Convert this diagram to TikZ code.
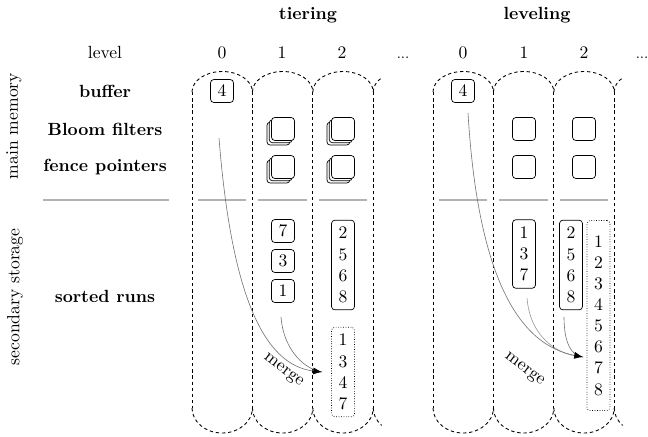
\documentclass[tikz,border=0pt]{standalone}
\usetikzlibrary{shadows,arrows.meta}
\begin{document}
\begin{tikzpicture}[x=0.568pt,y=0.568pt,
  col/.style={dash pattern=on 1.9pt off 1.6pt, line width=0.5pt},
  sep/.style={draw=black!30, line width=0.6pt},
  rowlbl/.style={font=\bfseries},
  hdr/.style={anchor=base},
  key/.style={draw, rounded corners=1.8pt, minimum size=13pt, inner sep=0pt},
  run/.style={draw, rounded corners=1.8pt, align=center, inner sep=4pt},
  mrun/.style={run, densely dotted},
  filt/.style={draw, rounded corners=1.8pt, minimum size=13pt, inner sep=0pt, fill=white},
  stack/.style={filt, double copy shadow={shadow xshift=-1.3pt, shadow yshift=-1.3pt}},
  flowA/.style={draw=black!55, line width=0.35pt},
  flowB/.style={draw=black!40, line width=0.35pt},
  tipped/.style={-{Latex[length=5pt,width=4pt,color=black]}},
]
\useasboundingbox (0,0) rectangle (648,-436);

% left labels
\node[rotate=90] (mm) at (14,-126) {main memory};
\node[rotate=90] (ss) at (15,-297) {secondary storage};
\node[hdr] (lvl) at (105,-58) {level};
\node[rowlbl] (buf) at (105,-91) {buffer};
\node[rowlbl] (bf) at (105,-129) {Bloom filters};
\node[rowlbl] (fp) at (105,-167) {fence pointers};
\node[rowlbl] (sr) at (105,-296) {sorted runs};
\coordinate (sepL) at (43,-200);
\coordinate (sepR) at (169,-200);
\draw[sep] (sepL) -- (sepR);

% titles
\node[font=\bfseries] (tt) at (308,-15) {tiering};
\node[font=\bfseries] (lt) at (537,-15) {leveling};

% columns (two groups)
\foreach \g/\ox in {T/192, L/433} {
  \foreach \i in {0,1,2} {
    \pgfmathsetmacro{\lx}{\ox+60.4*\i}
    \draw[col] (\lx,-92) arc[start angle=180, end angle=0, x radius=30.2, y radius=20.5];
    \draw[col] (\lx,-408) arc[start angle=180, end angle=360, x radius=30.2, y radius=25];
    \coordinate (\g s\i a) at (\lx+6,-200);
    \coordinate (\g s\i b) at (\lx+54.4,-200);
    \draw[sep] (\g s\i a) -- (\g s\i b);
  }
  \foreach \i in {0,1,2,3} {
    \pgfmathsetmacro{\lx}{\ox+60.4*\i}
    \coordinate (\g v\i t) at (\lx,-92);
    \coordinate (\g v\i b) at (\lx,-408);
    \draw[col] (\g v\i t) -- (\g v\i b);
  }
  \pgfmathsetmacro{\lx}{\ox+60.4*3}
  \draw[col] (\lx,-92) arc[start angle=180, end angle=136, x radius=30.2, y radius=20.5];
  \draw[col] (\lx,-408) arc[start angle=180, end angle=224, x radius=30.2, y radius=25];
}

% headers
\node[hdr] (t0) at (222,-58) {0};
\node[hdr] (t1) at (282,-58) {1};
\node[hdr] (t2) at (342,-58) {2};
\node[hdr,font=\footnotesize] (td) at (403,-58) {...};
\node[hdr] (l0) at (463,-58) {0};
\node[hdr] (l1) at (524,-58) {1};
\node[hdr] (l2) at (584,-58) {2};
\node[hdr,font=\footnotesize] (ld) at (642,-58) {...};

% tiering contents
\node[key] (tb) at (222,-91) {4};
\node[stack] (tbf1) at (283,-129) {};
\node[stack] (tbf2) at (343,-129) {};
\node[stack] (tfp1) at (283,-167) {};
\node[stack] (tfp2) at (343,-167) {};
\node[key] (tr7) at (283,-231) {7};
\node[key] (tr3) at (283,-261) {3};
\node[key] (tr1) at (283,-291) {1};
\node[run] (tr2) at (343,-265) {2\\5\\6\\8};
\node[mrun] (tm) at (343,-372) {1\\3\\4\\7};

% leveling contents
\node[key] (lb) at (463,-91) {4};
\node[filt] (lbf1) at (524,-129) {};
\node[filt] (lbf2) at (584,-129) {};
\node[filt] (lfp1) at (524,-167) {};
\node[filt] (lfp2) at (584,-167) {};
\node[run] (lr1) at (524,-254) {1\\3\\7};
\node[run] (lr2) at (571,-265) {2\\5\\6\\8};
\node[mrun, minimum height=108pt] (lm) at (598.5,-315.5) {1\\2\\3\\4\\5\\6\\7\\8};

% merge flows tiering
\coordinate (ta) at (219,-138);
\coordinate (tc) at (281,-317);
\coordinate (ttip) at (322,-372);
\draw[flowA] (tc) .. controls (283,-345) and (300,-368) .. (ttip);
\draw[flowA, tipped] (ta) .. controls (231,-290) and (262,-365) .. (ttip);
\node[rotate=-37] (tml) at (283,-371) {merge};

% merge flows leveling
\coordinate (la) at (468,-113);
\coordinate (lc) at (527,-298);
\coordinate (ld2) at (564,-317);
\coordinate (ltip) at (583,-357);
\draw[flowB] (lc) .. controls (530,-335) and (555,-355) .. (ltip);
\draw[flowA] (ld2) .. controls (564,-340) and (570,-356) .. (ltip);
\draw[flowA, tipped] (la) .. controls (478,-280) and (520,-345) .. (ltip);
\node[rotate=-37] (lml) at (524,-370) {merge};
\end{tikzpicture}
\end{document}
